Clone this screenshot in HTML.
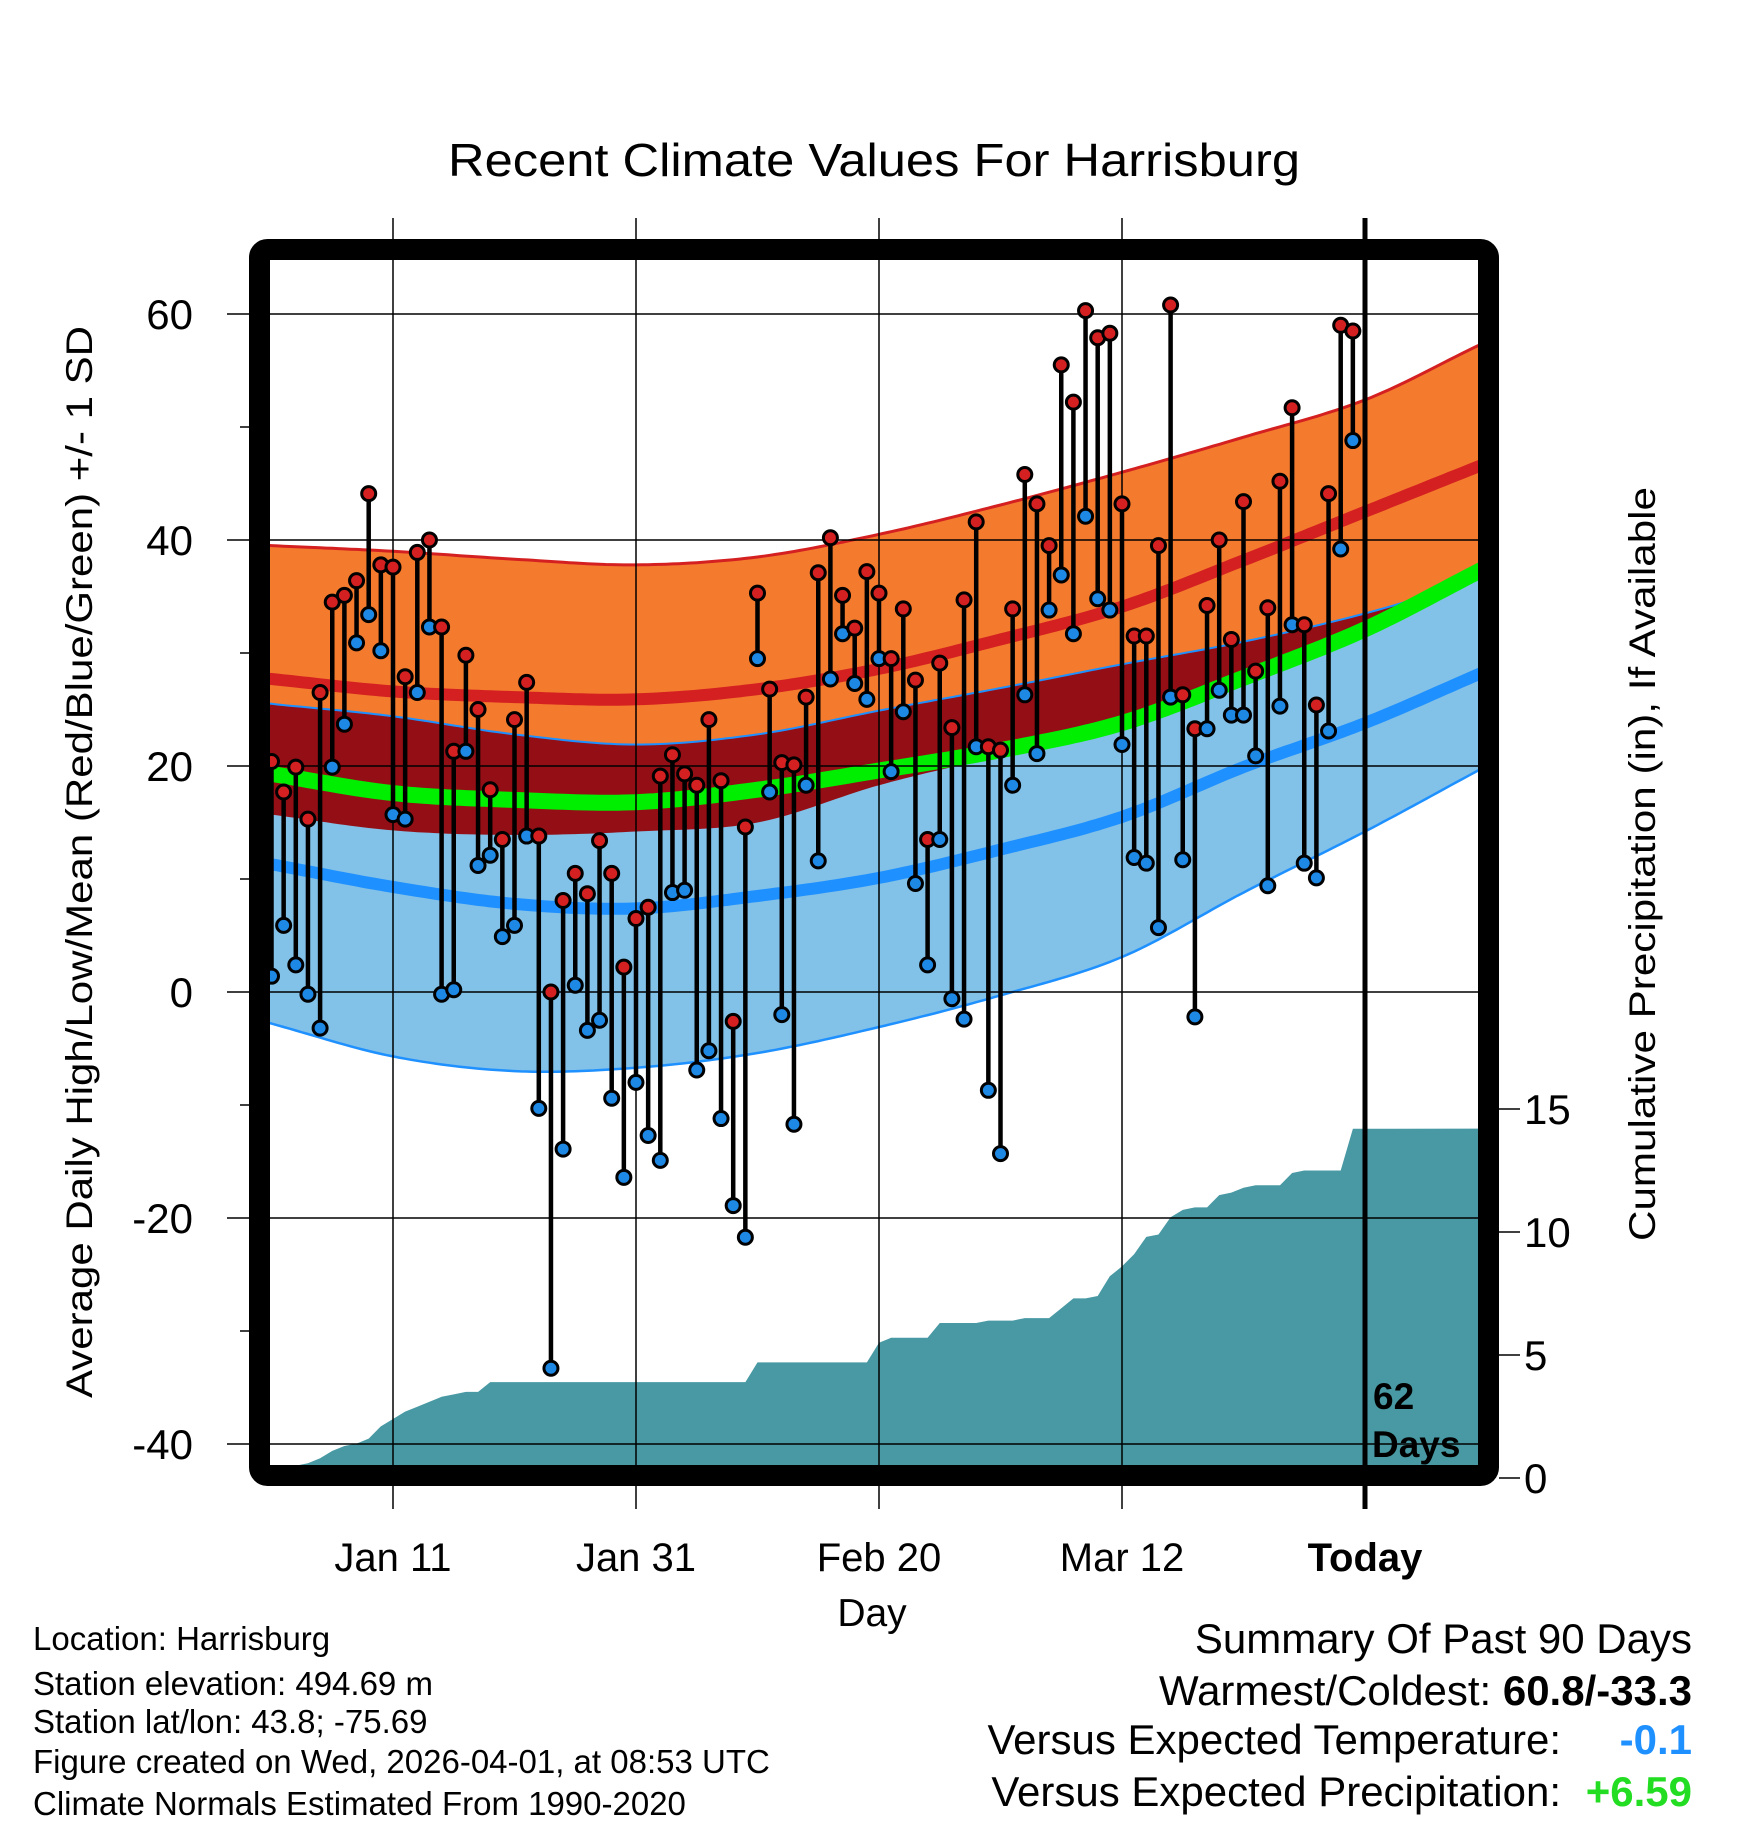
<!DOCTYPE html>
<html><head><meta charset="utf-8"><style>
html,body{margin:0;padding:0;background:#fff;}
svg{display:block;font-family:"Liberation Sans",Arial,sans-serif;}
</style></head><body>
<svg id="chart" width="1748" height="1828" viewBox="0 0 1748 1828" xmlns="http://www.w3.org/2000/svg">
<defs><clipPath id="plotclip"><rect x="270" y="260" width="1208" height="1205"/></clipPath></defs>
<rect x="0" y="0" width="1748" height="1828" fill="#fff"/>
<text x="874" y="176" font-size="46" text-anchor="middle" textLength="852" lengthAdjust="spacingAndGlyphs">Recent Climate Values For Harrisburg</text>
<g id="bands" clip-path="url(#plotclip)"></g>
<g id="precip" clip-path="url(#plotclip)"></g>
<g id="grid"></g>
<g id="marks"></g>
<rect x="259.5" y="249.5" width="1229" height="1226" rx="8" fill="none" stroke="#000" stroke-width="21"/>
<g id="axes"></g>
<text x="1373" y="1409" font-size="37" font-weight="bold">62</text>
<text x="1372" y="1457" font-size="37" font-weight="bold">Days</text>
<text x="872" y="1626" font-size="39" text-anchor="middle">Day</text>
<text transform="translate(92,862) rotate(-90)" font-size="37" text-anchor="middle" textLength="1072" lengthAdjust="spacingAndGlyphs">Average Daily High/Low/Mean (Red/Blue/Green) +/- 1 SD</text>
<text transform="translate(1655,864) rotate(-90)" font-size="37" text-anchor="middle" textLength="754" lengthAdjust="spacingAndGlyphs">Cumulative Precipitation (in), If Available</text>
<g font-size="33">
<text x="33" y="1650">Location: Harrisburg</text>
<text x="33" y="1695">Station elevation: 494.69 m</text>
<text x="33" y="1733">Station lat/lon: 43.8; -75.69</text>
<text x="33" y="1773">Figure created on Wed, 2026-04-01, at 08:53 UTC</text>
<text x="33" y="1815">Climate Normals Estimated From 1990-2020</text>
</g>
<g font-size="42">
<text x="1692" y="1653" text-anchor="end">Summary Of Past 90 Days</text>
<text x="1692" y="1705" text-anchor="end">Warmest/Coldest: <tspan font-weight="bold">60.8/-33.3</tspan></text>
<text x="1561" y="1754" text-anchor="end">Versus Expected Temperature:</text>
<text x="1692" y="1754" text-anchor="end" font-weight="bold" fill="#1e90ff">-0.1</text>
<text x="1561" y="1806" text-anchor="end">Versus Expected Precipitation:</text>
<text x="1692" y="1806" text-anchor="end" font-weight="bold" fill="#22dd22">+6.59</text>
</g>
</svg>
<script>
const highs=[20.4,17.7,19.9,15.3,26.5,34.5,35.1,36.4,44.1,37.8,37.6,27.9,38.9,40.0,32.3,21.3,29.8,25.0,17.9,13.5,24.1,27.4,13.8,0.0,8.1,10.5,8.7,13.4,10.5,2.2,6.5,7.5,19.1,21.0,19.3,18.3,24.1,18.7,-2.6,14.6,35.3,26.8,20.3,20.1,26.1,37.1,40.2,35.1,32.2,37.2,35.3,29.5,33.9,27.6,13.5,29.1,23.4,34.7,41.6,21.7,21.4,33.9,45.8,43.2,39.5,55.5,52.2,60.3,57.9,58.3,43.2,31.5,31.5,39.5,60.8,26.3,23.3,34.2,40.0,31.2,43.4,28.4,34.0,45.2,51.7,32.5,25.4,44.1,59.0,58.5];
const lows=[1.4,5.9,2.4,-0.2,-3.2,19.9,23.7,30.9,33.4,30.2,15.7,15.3,26.5,32.3,-0.2,0.2,21.3,11.2,12.1,4.9,5.9,13.8,-10.3,-33.3,-13.9,0.6,-3.4,-2.5,-9.4,-16.4,-8.0,-12.7,-14.9,8.8,9.0,-6.9,-5.2,-11.2,-18.9,-21.7,29.5,17.7,-2.0,-11.7,18.3,11.6,27.7,31.7,27.3,25.9,29.5,19.5,24.8,9.6,2.4,13.5,-0.6,-2.4,21.7,-8.7,-14.3,18.3,26.3,21.1,33.8,36.9,31.7,42.1,34.8,33.8,21.9,11.9,11.4,5.7,26.1,11.7,-2.2,23.3,26.7,24.5,24.5,20.9,9.4,25.3,32.5,11.4,10.1,23.1,39.2,48.8];
const precipCum=[0.5,0.5,0.5,0.6,0.8,1.1,1.3,1.4,1.6,2.1,2.4,2.7,2.9,3.1,3.3,3.4,3.5,3.5,3.9,3.9,3.9,3.9,3.9,3.9,3.9,3.9,3.9,3.9,3.9,3.9,3.9,3.9,3.9,3.9,3.9,3.9,3.9,3.9,3.9,3.9,4.7,4.7,4.7,4.7,4.7,4.7,4.7,4.7,4.7,4.7,5.5,5.7,5.7,5.7,5.7,6.3,6.3,6.3,6.3,6.4,6.4,6.4,6.5,6.5,6.5,6.9,7.3,7.3,7.4,8.2,8.6,9.1,9.8,9.9,10.6,10.9,11.0,11.0,11.5,11.6,11.8,11.9,11.9,11.9,12.4,12.5,12.5,12.5,12.5,14.2];
const bandDays=[0,10,20,30,40,50,60,70,80,90,99.3];
const highTop=[39.5,39.0,38.3,37.8,38.5,40.5,43.1,46.0,49.1,52.4,57.2];
const highMean=[27.7,26.6,26.1,25.9,26.8,28.6,31.2,34.1,38.2,42.5,46.5];
const highBot=[15.7,14.3,13.9,14.2,15.0,18.3,20.9,23.4,27.5,32.0,36.5];
const lowTop=[25.5,24.4,22.8,21.9,22.8,24.9,26.9,29.0,31.0,33.5,36.5];
const meanLine=[19.3,17.6,17.0,16.8,17.9,19.6,21.4,23.8,27.8,32.1,37.2];
const lowMean=[11.3,9.3,7.8,7.4,8.5,10.1,12.6,15.5,19.9,23.8,28.1];
const lowBot=[-2.8,-5.7,-7.0,-6.7,-5.4,-3.1,-0.3,3.1,8.8,14.2,19.6];
const tempTicks=[-40,-20,0,20,40,60];
const tempMinor=[-30,-10,10,30,50];
const precipTicks=[0,5,10,15];
const xTickDays=[10,30,50,70,90];
const xTickLabels=["Jan 11","Jan 31","Feb 20","Mar 12","Today"];

const NS="http://www.w3.org/2000/svg";
function xS(d){return 271.5+12.15*d;}
function yT(v){return 992-11.3*v;}
function yP(p){return 1478-24.6*p;}
function mk(tag,attrs,parent){const e=document.createElementNS(NS,tag);for(const k in attrs)e.setAttribute(k,attrs[k]);parent.appendChild(e);return e;}
function slope(arr,i){const n=arr.length;if(i==0)return (arr[1]-arr[0])/(bandDays[1]-bandDays[0]);if(i==n-1)return (arr[n-1]-arr[n-2])/(bandDays[n-1]-bandDays[n-2]);return (arr[i+1]-arr[i-1])/(bandDays[i+1]-bandDays[i-1]);}
function interp(arr,d){
  const n=bandDays.length;
  if(d<=bandDays[0])return arr[0]+slope(arr,0)*(d-bandDays[0]);
  if(d>=bandDays[n-1])return arr[n-1]+slope(arr,n-1)*(d-bandDays[n-1]);
  for(let i=0;i<n-1;i++){if(d<=bandDays[i+1]){const h=bandDays[i+1]-bandDays[i];const t=(d-bandDays[i])/h;const m0=slope(arr,i)*h,m1=slope(arr,i+1)*h;const t2=t*t,t3=t2*t;return (2*t3-3*t2+1)*arr[i]+(t3-2*t2+t)*m0+(-2*t3+3*t2)*arr[i+1]+(t3-t2)*m1;}}
}
const samp=[];for(let d=-1;d<=100;d+=0.5)samp.push(d);
function linePts(arr){return samp.map(d=>xS(d).toFixed(1)+","+yT(interp(arr,d)).toFixed(1));}
function areaPts(a,b){return linePts(a).concat(linePts(b).reverse()).join(" ");}

const bands=document.getElementById('bands');
let e;
e=mk('polygon',{points:areaPts(highTop,highBot),fill:'#f47b2e'},bands);


e=mk('polygon',{points:areaPts(lowTop,lowBot),fill:'#82c1e8'},bands);


const ovTop=samp.map(d=>Math.min(interp(highTop,d),interp(lowTop,d)));
const ovBot=samp.map(d=>Math.max(interp(highBot,d),interp(lowBot,d)));
const ovPts=[];samp.forEach((d,i)=>ovPts.push(xS(d).toFixed(1)+","+yT(ovTop[i]).toFixed(1)));
for(let i=samp.length-1;i>=0;i--){const b=Math.min(ovBot[i],ovTop[i]);ovPts.push(xS(samp[i]).toFixed(1)+","+yT(b).toFixed(1));}
e=mk('polygon',{points:ovPts.join(" "),fill:'#930f15'},bands);


e=mk('polyline',{points:linePts(highTop).join(" "),fill:'none',stroke:'#d42020','stroke-width':3},bands);


e=mk('polyline',{points:linePts(lowTop).join(" "),fill:'none',stroke:'#1e90ff','stroke-width':2},bands);


e=mk('polyline',{points:linePts(lowBot).join(" "),fill:'none',stroke:'#1e90ff','stroke-width':2.5},bands);


e=mk('polyline',{points:linePts(highMean).join(" "),fill:'none',stroke:'#d42020','stroke-width':12},bands);


e=mk('polyline',{points:linePts(lowMean).join(" "),fill:'none',stroke:'#1e90ff','stroke-width':12},bands);


e=mk('polyline',{points:linePts(meanLine).join(" "),fill:'none',stroke:'#00ee00','stroke-width':16},bands);



const pg=document.getElementById('precip');
const pp=[xS(-1)+","+yP(0),xS(-1)+","+yP(precipCum[0])];
precipCum.forEach((p,i)=>pp.push(xS(i).toFixed(1)+","+yP(p).toFixed(1)));
pp.push(xS(101)+","+yP(precipCum[precipCum.length-1]));pp.push(xS(101)+","+yP(0));
e=mk('polygon',{points:pp.join(" "),fill:'#4899a3'},pg);



const grid=document.getElementById('grid');
tempTicks.forEach(v=>{
  e=mk('line',{x1:227,x2:1478,y1:yT(v),y2:yT(v),stroke:'#000','stroke-width':1.5},grid);
  
  
});
xTickDays.forEach((d,i)=>{
  e=mk('line',{x1:xS(d),x2:xS(d),y1:218,y2:1509,stroke:'#000','stroke-width':i==4?5:1.5},grid);
  
  
});

const marks=document.getElementById('marks');
highs.forEach((h,i)=>{
  const x=xS(i);
  e=mk('line',{x1:x,x2:x,y1:yT(h),y2:yT(lows[i]),stroke:'#000','stroke-width':4.5},marks);
  
  
});
highs.forEach((h,i)=>{
  const x=xS(i);
  e=mk('circle',{cx:x,cy:yT(lows[i]),r:7,fill:'#1e88e5',stroke:'#000','stroke-width':3},marks);
  
  
  e=mk('circle',{cx:x,cy:yT(h),r:7,fill:'#d42020',stroke:'#000','stroke-width':3},marks);
  
  
});

const axes=document.getElementById('axes');
tempTicks.forEach(v=>{
  e=mk('text',{x:193,y:yT(v)+15,'font-size':42,'text-anchor':'end'},axes);
  e.textContent=v;
  
  
});
tempMinor.forEach(v=>{
  e=mk('line',{x1:240,x2:250,y1:yT(v),y2:yT(v),stroke:'#000','stroke-width':1.5},axes);
  
  
});
precipTicks.forEach(p=>{
  e=mk('line',{x1:1499,x2:1520,y1:yP(p),y2:yP(p),stroke:'#000','stroke-width':1.5},axes);
  
  
  e=mk('text',{x:1524,y:yP(p)+15,'font-size':42},axes);
  e.textContent=p;
  
  
});
xTickDays.forEach((d,i)=>{
  e=mk('text',{x:xS(d),y:1571,'font-size':40,'text-anchor':'middle','font-weight':i==4?'bold':'normal'},axes);
  e.textContent=xTickLabels[i];
  
  
});
</script>
</body></html>
